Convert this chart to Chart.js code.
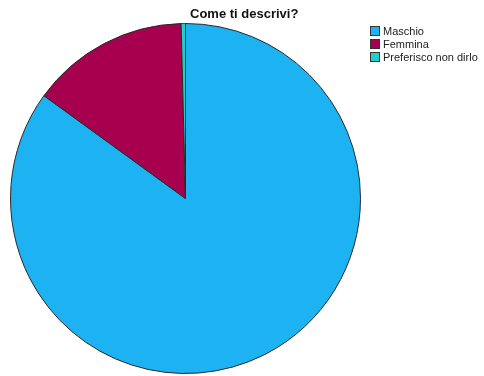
<!DOCTYPE html>
<html>
<head>
<meta charset="utf-8">
<script src="https://cdn.jsdelivr.net/npm/chart.js@4/dist/chart.umd.min.js"></script>
<style>
    html, body { margin: 0; padding: 0; background: #fff; }
    #wrap { position: relative; width: 484px; height: 376px; overflow: hidden; }
    #pie { position: absolute; left: 0; top: 0; }
    #title {
        position: absolute; left: 190px; top: 6px;
        font: bold 13px "Liberation Sans", Arial, sans-serif; line-height: 15px;
        color: #111; white-space: nowrap;
    }
    #legend { position: absolute; left: 370px; top: 24px; }
    .legend-row {
        display: flex; align-items: center; height: 13px;
        font: 11px "Liberation Sans", Arial, sans-serif; color: #222; white-space: nowrap;
    }
    .legend-box {
        box-sizing: border-box; width: 10px; height: 10px;
        border: 1px solid #333; margin-right: 3px;
    }
</style>
</head>
<body>
<div id="wrap">
    <canvas id="pie" width="484" height="376"></canvas>
    <div id="title">Come ti descrivi?</div>
    <div id="legend"></div>
</div>
<script>
// --- Data ---
const chartTitle = 'Come ti descrivi?';
const categories = ['Maschio', 'Femmina', 'Preferisco non dirlo'];
const percentages = [85.0, 14.6, 0.4];
const sliceColors = ['#1db3f2', '#a7004e', '#1fcfcb'];

document.addEventListener('DOMContentLoaded', () => {
    document.getElementById('title').textContent = chartTitle;

    // --- Legend (HTML, top right) ---
    const legend = document.getElementById('legend');
    categories.forEach((label, i) => {
        const row = document.createElement('div');
        row.className = 'legend-row';
        row.innerHTML = `<span class="legend-box" style="background:${sliceColors[i]}"></span><span>${label}</span>`;
        legend.appendChild(row);
    });

    // --- Pie ---
    const ctx = document.getElementById('pie').getContext('2d');
    new Chart(ctx, {
        type: 'pie',
        data: {
            labels: categories,
            datasets: [{
                data: percentages,
                backgroundColor: sliceColors,
                borderColor: '#2a2a2a',
                borderWidth: 1,
            }]
        },
        options: {
            responsive: false,
            animation: false,
            layout: { padding: { left: 10, right: 123, top: 23, bottom: 2 } },
            plugins: {
                legend: { display: false },
                title: { display: false },
                tooltip: { enabled: false }
            }
        }
    });
});
</script>
</body>
</html>
